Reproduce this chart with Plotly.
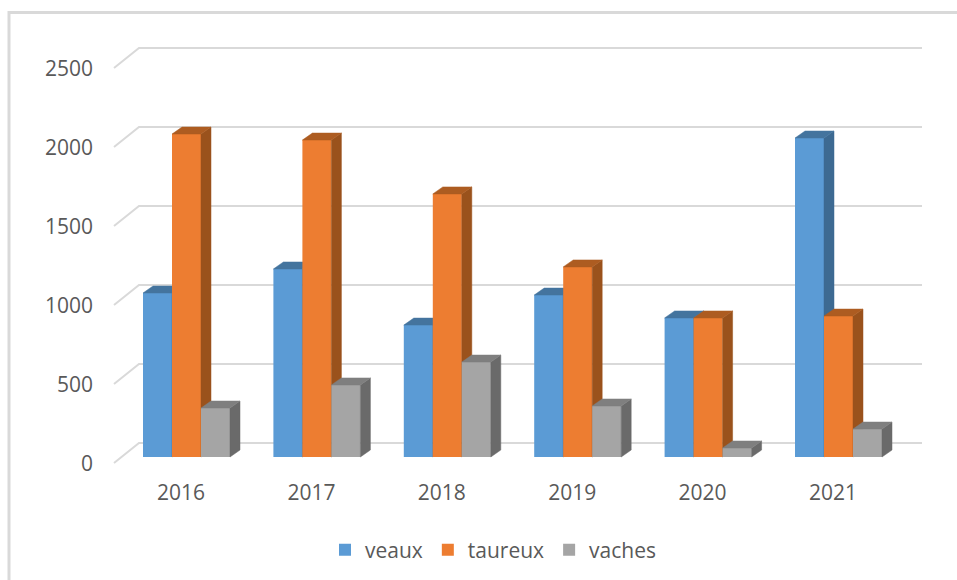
import plotly.graph_objects as go

years = ['2016', '2017', '2018', '2019', '2020', '2021']
veaux = [1038, 1190, 835, 1025, 880, 2019]
taureux = [2044, 2006, 1665, 1203, 880, 892]
vaches = [310, 456, 601, 323, 57, 177]
y_ticks = [0, 500, 1000, 1500, 2000, 2500]

# pixel geometry of the picture, turned into axis units below
PX_X = 130.4    # px per category
PX_Y = 0.158    # px per value unit
LEFT, RIGHT, TOP, BOTTOM = 100, 957, 20, 478
ZERO_X, ZERO_Y = 186.5, 457
BAR_W = 29 / PX_X
DX = 10 / PX_X
DY = 7 / PX_Y

x_range = [(LEFT - ZERO_X) / PX_X, (RIGHT - ZERO_X) / PX_X]
y_range = [(ZERO_Y - BOTTOM) / PX_Y, (ZERO_Y - TOP) / PX_Y]


def px_x(p):
    return (p - ZERO_X) / PX_X


fig = go.Figure()

# back wall grid with the slanted part on the left
gx, gy = [], []
for v in y_ticks:
    gx += [px_x(114), px_x(139), px_x(922), None]
    gy += [v - 6 / PX_Y, v + 14 / PX_Y, v + 14 / PX_Y, None]
fig.add_trace(go.Scatter(x=gx, y=gy, mode='lines', showlegend=False, hoverinfo='skip',
                         line=dict(color='#d9d9d9', width=2)))

# each series on its own overlaid axes so later bars cover earlier side faces
series = [
    ('veaux', veaux, '#5b9bd5', '#44749e', '#3d6a92', -1.5, '2'),
    ('taureux', taureux, '#ed7d31', '#ad5c21', '#9a521c', -0.5, '3'),
    ('vaches', vaches, '#a5a5a5', '#7f7f7f', '#6a6a6a', 0.5, '4'),
]

for name, values, front, top, side, shift, ax in series:
    xa, ya = 'x' + ax, 'y' + ax
    fig.add_trace(go.Bar(x=list(range(len(values))), y=values, name=name, xaxis=xa, yaxis=ya,
                         width=BAR_W, offset=shift * BAR_W, marker=dict(color=front, line_width=0)))
    sx, sy, tx, ty = [], [], [], []
    for i, v in enumerate(values):
        xl = i + shift * BAR_W
        xr = xl + BAR_W
        sx += [xr, xr + DX, xr + DX, xr, xr, None]
        sy += [0, DY, v + DY, v, 0, None]
        tx += [xl, xl + DX, xr + DX, xr, xl, None]
        ty += [v, v + DY, v + DY, v, v, None]
    for fx, fy, col in [(sx, sy, side), (tx, ty, top)]:
        fig.add_trace(go.Scatter(x=fx, y=fy, xaxis=xa, yaxis=ya, mode='lines', fill='toself',
                                 fillcolor=col, line=dict(color=col, width=0.5),
                                 showlegend=False, hoverinfo='skip'))

hidden = dict(visible=False, fixedrange=True)
fig.update_layout(
    width=957, height=580,
    margin=dict(l=LEFT, r=957 - RIGHT, t=TOP, b=580 - BOTTOM),
    paper_bgcolor='white',
    plot_bgcolor='rgba(0,0,0,0)',
    barmode='overlay',
    font=dict(family='Open Sans', size=21, color='#595959'),
    xaxis=dict(range=x_range, tickmode='array', tickvals=[i - 5.5 / PX_X for i in range(len(years))],
               ticktext=years, showgrid=False, zeroline=False, showline=False, ticks='',
               ticklabelstandoff=0),
    yaxis=dict(range=y_range, tickmode='array', tickvals=[v - 7 / PX_Y for v in y_ticks],
               ticktext=[str(v) for v in y_ticks], showgrid=False, zeroline=False, showline=False,
               ticks='', ticklabelstandoff=6),
    xaxis2=dict(range=x_range, overlaying='x', **hidden),
    yaxis2=dict(range=y_range, overlaying='y', **hidden),
    xaxis3=dict(range=x_range, overlaying='x', **hidden),
    yaxis3=dict(range=y_range, overlaying='y', **hidden),
    xaxis4=dict(range=x_range, overlaying='x', **hidden),
    yaxis4=dict(range=y_range, overlaying='y', **hidden),
    legend=dict(orientation='h', x=(325 - LEFT) / (RIGHT - LEFT), xanchor='left',
                y=-(550 - BOTTOM) / (BOTTOM - TOP), yanchor='middle',
                bgcolor='rgba(0,0,0,0)', font=dict(size=21)),
    showlegend=True,
)

# chart frame, left and top edges only reach the picture limits
W, H = RIGHT - LEFT, BOTTOM - TOP
fig.add_shape(type='path', xref='paper', yref='paper',
              path=f'M {(9 - LEFT) / W} {(BOTTOM - 580) / H} L {(9 - LEFT) / W} {(BOTTOM - 12.5) / H} L {(957 - LEFT) / W} {(BOTTOM - 12.5) / H}',
              line=dict(color='#d9d9d9', width=3), layer='below')

fig.write_html('out.html', config={'displayModeBar': False},
               post_script="document.body.style.margin = '0';")
